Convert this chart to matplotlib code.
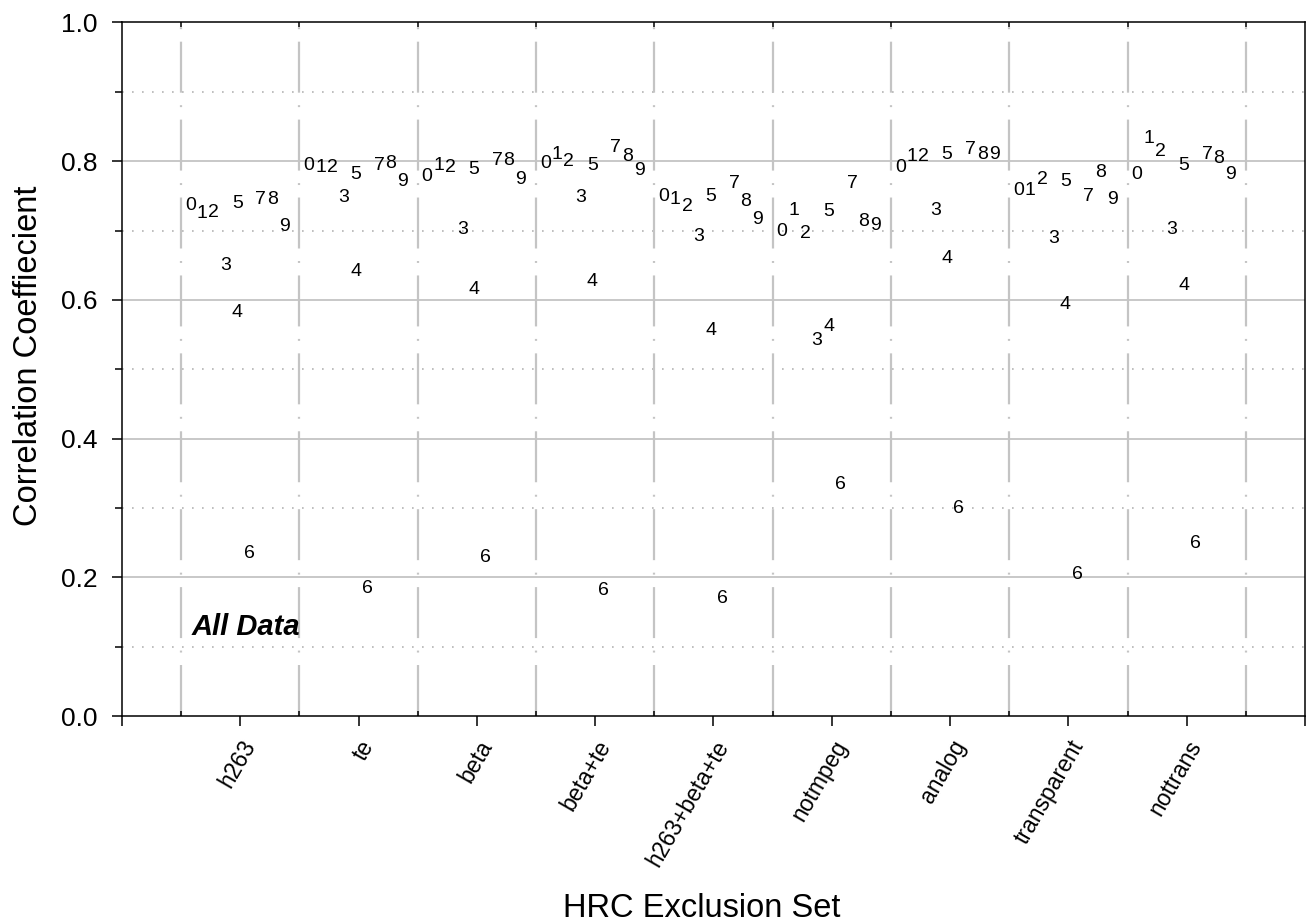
import numpy as np
import matplotlib.pyplot as plt
from matplotlib.transforms import offset_copy

plt.rcParams['font.family'] = ['Liberation Sans', 'DejaVu Sans']
plt.rcParams['lines.scale_dashes'] = False

# HRC exclusion sets (x categories)
exclusion_sets = ['h263', 'te', 'beta', 'beta+te', 'h263+beta+te',
                  'notmpeg', 'analog', 'transparent', 'nottrans']
digits = ['0', '1', '2', '3', '4', '5', '6', '7', '8', '9']

# correlation coefficient for digits 0..9 in each exclusion set
r_h263 = [0.740, 0.728, 0.730, 0.653, 0.586, 0.742, 0.238, 0.748, 0.749, 0.709]
r_te = [0.797, 0.794, 0.794, 0.751, 0.644, 0.784, 0.187, 0.798, 0.800, 0.774]
r_beta = [0.782, 0.797, 0.795, 0.705, 0.618, 0.791, 0.232, 0.805, 0.804, 0.777]
r_beta_te = [0.800, 0.813, 0.803, 0.751, 0.630, 0.798, 0.184, 0.824, 0.811, 0.790]
r_h263_beta_te = [0.752, 0.748, 0.739, 0.695, 0.559, 0.753, 0.173, 0.771, 0.746, 0.720]
r_notmpeg = [0.702, 0.732, 0.700, 0.545, 0.565, 0.731, 0.337, 0.772, 0.716, 0.711]
r_analog = [0.795, 0.811, 0.811, 0.732, 0.663, 0.813, 0.303, 0.820, 0.813, 0.813]
r_transparent = [0.762, 0.762, 0.777, 0.692, 0.597, 0.774, 0.207, 0.752, 0.788, 0.748]
r_nottrans = [0.785, 0.837, 0.817, 0.705, 0.625, 0.798, 0.252, 0.813, 0.808, 0.784]

all_r = [r_h263, r_te, r_beta, r_beta_te, r_h263_beta_te,
         r_notmpeg, r_analog, r_transparent, r_nottrans]

# horizontal slot of each digit inside its group (4 and 5 share a slot)
slot = np.array([-4, -3, -2, -1, 0, 0, 1, 2, 3, 4])
dx = 0.099 * slot - 0.025

fig = plt.figure(figsize=(13.07, 9.22), dpi=100)
ax = fig.add_axes([0.0933, 0.2234, 0.9052, 0.7522])
ax.set_xlim(0, 10)
ax.set_ylim(0, 1)

# grid
for y in [0.2, 0.4, 0.6, 0.8]:
    ax.axhline(y, color='#c8c8c8', lw=1.4, zorder=1)
for y in [0.1, 0.3, 0.5, 0.7, 0.9]:
    ax.axhline(y, color='#b4b4b4', lw=1.2, ls=(0, (1.2, 6.0)), zorder=1)
for xb in np.arange(0.5, 10, 1.0):
    ax.plot([xb, xb], [0, 1], color='#c4c4c4', lw=1.6,
            ls=(0, (36.7, 9.0, 1.4, 9.0)), zorder=1)

# digits drawn as the plotting symbols
txt_tr = offset_copy(ax.transData, fig=fig, x=0, y=-2.5, units='dots')
for g, vals in enumerate(all_r):
    for d, v in zip(digits, vals):
        ax.text(g + 1 + dx[int(d)], v, d, fontsize=14, transform=txt_tr,
                ha='center', va='center', zorder=3)

ax.text(0.59, 0.117, 'All Data', fontsize=21, fontweight='bold',
        fontstyle='italic', ha='left', va='baseline')

# axes / ticks
ax.set_xticks(np.arange(0, 11))
ax.set_xticklabels([''] + exclusion_sets + [''], rotation=60,
                   ha='right', va='top', rotation_mode='anchor',
                   fontsize=16.5)
ax.set_xticks(np.arange(0.5, 10, 1.0), minor=True)
ax.tick_params(axis='x', which='major', direction='out', length=7.5,
               width=1.1, top=False, pad=7)
ax.tick_params(axis='x', which='minor', direction='in', length=3.6,
               width=1.1, top=True, bottom=True)

ax.set_yticks(np.arange(0, 1.01, 0.2))
ax.set_yticklabels(['%.1f' % t for t in np.arange(0, 1.01, 0.2)], fontsize=19)
ax.set_yticks(np.arange(0.1, 1.0, 0.2), minor=True)
ax.tick_params(axis='y', which='major', direction='out', length=7.5,
               width=1.1, pad=10)
ax.tick_params(axis='y', which='minor', direction='out', length=5,
               width=1.1)

for s in ax.spines.values():
    s.set_linewidth(1.1)

ax.set_xlabel('HRC Exclusion Set', fontsize=23.5)
ax.xaxis.set_label_coords(0.49, -0.255)
ax.set_ylabel('Correlation Coeffiecient', fontsize=23.5)
ax.yaxis.set_label_coords(-0.066, 0.52)

fig.savefig('out.png', dpi=100)
